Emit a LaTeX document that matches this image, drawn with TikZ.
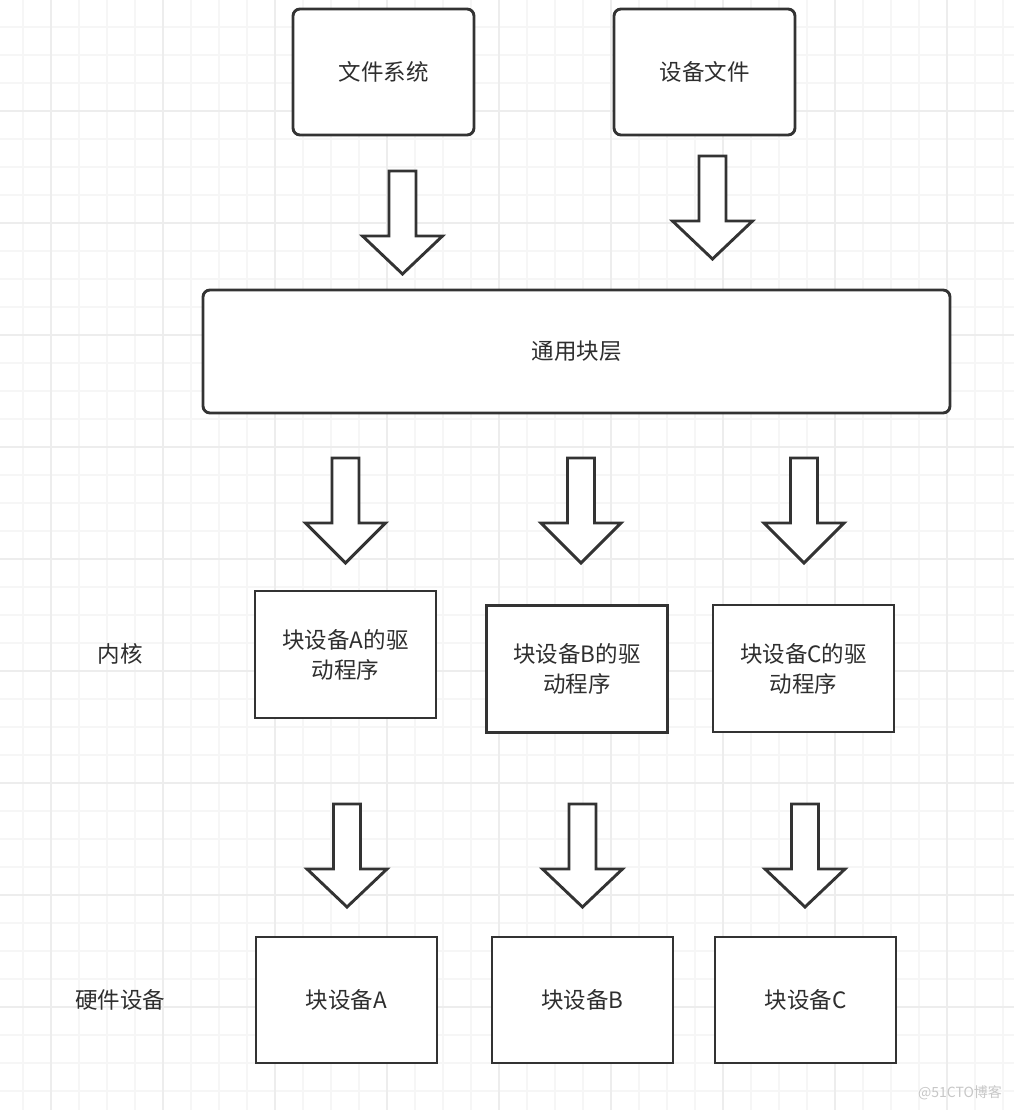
\documentclass[tikz,border=0pt]{standalone}
\usepackage{fontspec}
\setmainfont{Noto Sans CJK SC}
\begin{document}
\begin{tikzpicture}[x=1pt,y=-1pt,
  every node/.style={text=txtc,font=\fontsize{22.5}{30}\selectfont},
  roundbox/.style={draw=linec,line width=2.9pt,rounded corners=7pt,fill=white,inner sep=0pt},
  sqbox/.style={draw=linec,line width=2.9pt,fill=white,inner sep=0pt,minimum width=181,align=center},
  blockarrow/.style={draw=linec,line width=2.9pt,fill=white,line join=miter},
  plainlabel/.style={inner sep=0pt}
]
\definecolor{linec}{HTML}{333333}
\definecolor{txtc}{HTML}{2E2E2E}
\definecolor{gridminor}{HTML}{F6F6F6}
\definecolor{gridmajor}{HTML}{EDEDED}
\useasboundingbox (0,0) rectangle (1014,1110);
\fill[white] (0,0) rectangle (1014,1110);
% grid
\foreach \x in {23,51,...,1014} \draw[gridminor,line width=1.4pt] (\x,0) -- (\x,1110);
\foreach \y in {-1,27,...,1110} \draw[gridminor,line width=1.4pt] (0,\y) -- (1014,\y);
\foreach \x in {51,163,...,1014} \draw[gridmajor,line width=1.5pt] (\x,0) -- (\x,1110);
\foreach \y in {-1,111,...,1110} \draw[gridmajor,line width=1.5pt] (0,\y) -- (1014,\y);

% boxes
\node[roundbox,minimum width=181,minimum height=126] (fs) at (383.5,72) {文件系统};
\node[roundbox,minimum width=181,minimum height=126] (dev) at (704.5,72) {设备文件};
\node[roundbox,minimum width=747,minimum height=123] (gbl) at (576.5,351.5) {通用块层};
\node[sqbox,minimum height=127] (dA) at (345.5,654.5) {块设备A的驱\\动程序};
\node[sqbox,minimum height=127] (dB) at (577,669) {块设备B的驱\\动程序};
\node[sqbox,minimum height=127] (dC) at (803.5,668.5) {块设备C的驱\\动程序};
\node[sqbox,minimum height=126] (hA) at (346.5,1000) {块设备A};
\node[sqbox,minimum height=126] (hB) at (582.5,1000) {块设备B};
\node[sqbox,minimum height=126] (hC) at (805.5,1000) {块设备C};

\node[plainlabel] (kern) at (120,654) {内核};
\node[plainlabel] (hw) at (120,1000) {硬件设备};
\node[plainlabel,text=black!22,font=\fontsize{14}{16}\selectfont] (wm) at (960,1093) {@51CTO博客};

% block arrows: top-centre coordinates
\coordinate (a1) at (402.5,171);
\coordinate (a2) at (712.5,156);
\coordinate (b1) at (345.5,458);
\coordinate (b2) at (581,458);
\coordinate (b3) at (804,458);
\coordinate (c1) at (347,804);
\coordinate (c2) at (582.5,804);
\coordinate (c3) at (805,804);
\foreach \c/\hl in {a1/38,a2/38,b1/40,b2/40,b3/40,c1/38,c2/38,c3/38}{
  \draw[blockarrow] ([xshift=-13.5pt]\c) -- ([xshift=13.5pt]\c) -- ([xshift=13.5pt,yshift=-65pt]\c)
    -- ([xshift=40pt,yshift=-65pt]\c) -- ([yshift=-65pt-\hl pt]\c) -- ([xshift=-40pt,yshift=-65pt]\c)
    -- ([xshift=-13.5pt,yshift=-65pt]\c) -- cycle;
}
\end{tikzpicture}
\end{document}
